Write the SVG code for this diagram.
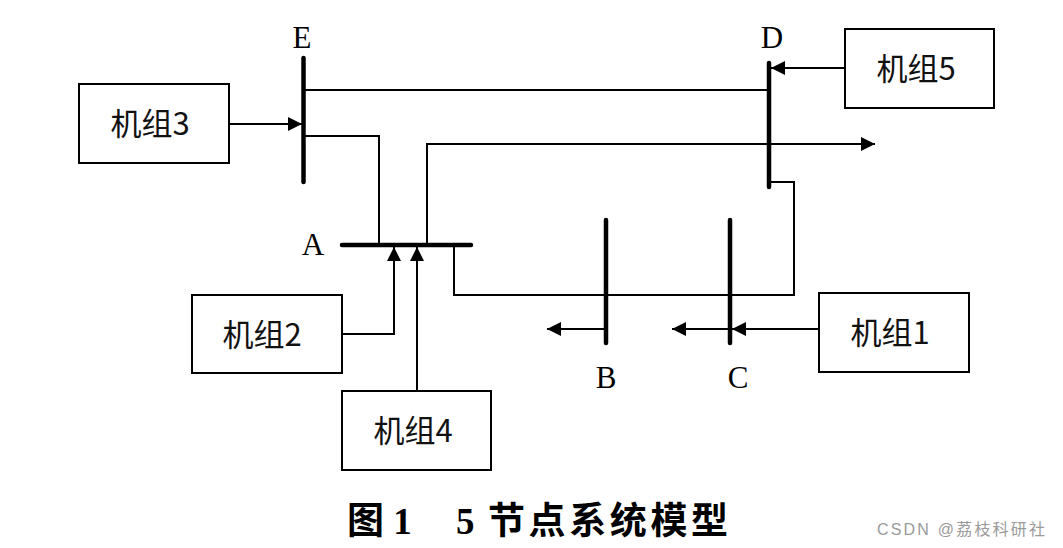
<svg xmlns="http://www.w3.org/2000/svg" width="1063" height="548" viewBox="0 0 1063 548">
<style>
.box{fill:#fff;stroke:#000;stroke-width:2}
.bus{stroke:#000;stroke-width:4.5;stroke-linecap:round;fill:none}
.ln{stroke:#000;stroke-width:2;fill:none}
.bt{font-family:"Noto Sans CJK SC","Liberation Sans",sans-serif;font-size:31px;fill:#111;text-anchor:middle}
.lb{font-family:"Liberation Serif",serif;font-size:31px;fill:#000;text-anchor:middle}
.cap{font-family:"Liberation Serif","Noto Sans CJK SC",serif;font-size:37px;font-weight:bold;fill:#000}
.wm{font-family:"Liberation Sans","Noto Sans CJK SC",sans-serif;font-size:16px;fill:#9a9a9a}
</style>
<defs>
<marker id="ar" viewBox="0 0 10 10" refX="10" refY="5" markerWidth="16" markerHeight="14" markerUnits="userSpaceOnUse" orient="auto">
<path d="M0,0 L10,5 L0,10 z" fill="#000"/>
</marker>
</defs>
<rect width="1063" height="548" fill="#fff"/>
<g id="connectors">
<path class="ln" d="M303,90 H769"/>
<path class="ln" d="M303,136 H379 V245"/>
<path class="ln" d="M427,245 V144 H875" marker-end="url(#ar)"/>
<path class="ln" d="M454,245 V295 H794 V182 H769"/>
<path class="ln" d="M229,124 H302" marker-end="url(#ar)"/>
<path class="ln" d="M845,68 H771" marker-end="url(#ar)"/>
<path class="ln" d="M342,334 H394 V247" marker-end="url(#ar)"/>
<path class="ln" d="M417,391 V247" marker-end="url(#ar)"/>
<path class="ln" d="M606,329 H547" marker-end="url(#ar)"/>
<path class="ln" d="M730,329 H672" marker-end="url(#ar)"/>
<path class="ln" d="M819,329 H732" marker-end="url(#ar)"/>
</g>
<g id="busE"><path class="bus" d="M303.5,58 V182"/><text class="lb" x="302" y="48">E</text></g>
<g id="busD"><path class="bus" d="M769,63 V187"/><text class="lb" x="772" y="48">D</text></g>
<g id="busA"><path class="bus" d="M342,245 H471"/><text class="lb" x="313" y="255">A</text></g>
<g id="busB"><path class="bus" d="M606,220 V343"/><text class="lb" x="606" y="388">B</text></g>
<g id="busC"><path class="bus" d="M730,220 V343"/><text class="lb" x="738" y="388">C</text></g>
<g id="g3"><rect class="box" x="79" y="84" width="150" height="79"/><text class="bt" x="150" y="135">机组3</text></g>
<g id="g5"><rect class="box" x="845" y="29" width="149" height="79"/><text class="bt" x="916" y="80">机组5</text></g>
<g id="g2"><rect class="box" x="192" y="295" width="150" height="78"/><text class="bt" x="262" y="346">机组2</text></g>
<g id="g4"><rect class="box" x="342" y="391" width="149" height="79"/><text class="bt" x="413" y="442">机组4</text></g>
<g id="g1"><rect class="box" x="819" y="293" width="150" height="79"/><text class="bt" x="890" y="344">机组1</text></g>
<text class="cap" x="347" y="534">图 1<tspan x="456">5</tspan><tspan x="488" textLength="240">节点系统模型</tspan></text>
<text class="wm" x="877" y="535" textLength="168">CSDN @荔枝科研社</text>
</svg>
